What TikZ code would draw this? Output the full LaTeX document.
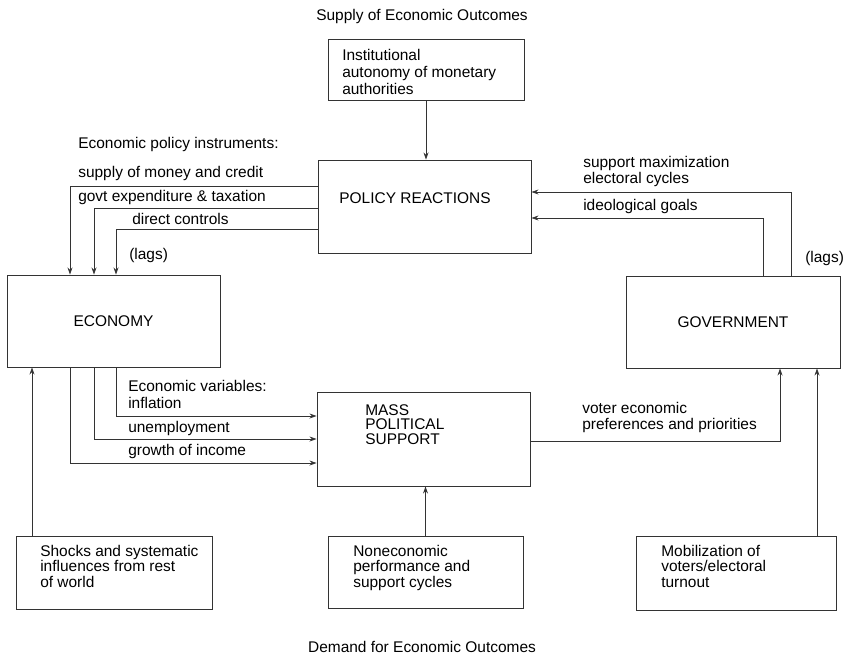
\documentclass[tikz,border=0pt]{standalone}
\usepackage{fontspec}
\setmainfont{Liberation Sans}
\usetikzlibrary{arrows.meta}

\newcommand{\pxs}[1]{#1*0.025cm}
\newcommand{\bx}{\node[draw=black!80, line width=0.6pt, inner sep=0pt]}
\newcommand{\tn}{\node[inner sep=0pt, align=left, anchor=base west]}

\begin{document}
\begin{tikzpicture}[x=0.025cm, y=-0.025cm,
    >={Stealth[length=5pt, width=3.5pt]},
    every node/.style={font=\fontsize{11}{11}\selectfont},
    wire/.style={->, draw=black!80, line width=0.6pt}]
\useasboundingbox (0,0) rectangle (845,659);

% boxes
\bx[minimum width=\pxs{196}, minimum height=\pxs{61}] (autonomy) at (426,69.5) {};
\bx[minimum width=\pxs{213}, minimum height=\pxs{93}] (policy) at (424.5,206.5) {};
\bx[minimum width=\pxs{213}, minimum height=\pxs{92}] (economy) at (113.5,321) {ECONOMY};
\bx[minimum width=\pxs{214}, minimum height=\pxs{92}] (gov) at (733,322) {GOVERNMENT};
\bx[minimum width=\pxs{213}, minimum height=\pxs{94}] (mass) at (423.5,439) {};
\bx[minimum width=\pxs{196}, minimum height=\pxs{73}] (shocks) at (114,572.5) {};
\bx[minimum width=\pxs{195}, minimum height=\pxs{72}] (noneco) at (425.5,572) {};
\bx[minimum width=\pxs{200}, minimum height=\pxs{74}] (mobil) at (736,573) {};

% box texts (base is the last line)
\tn[font=\fontsize{11}{12}\selectfont] (autonomytxt) at (342,94) {Institutional\\autonomy of monetary\\authorities};
\tn[anchor=center] (policytxt) at (415,198) {POLICY REACTIONS};
\tn[font=\fontsize{11}{10}\selectfont] (masstxt) at (365,444) {MASS\\POLITICAL\\SUPPORT};
\tn (shockstxt) at (40,587) {Shocks and systematic\\influences from rest\\of world};
\tn (nonecotxt) at (353,587) {Noneconomic\\performance and\\support cycles};
\tn (mobiltxt) at (661,587) {Mobilization of\\voters/electoral\\turnout};

% titles
\tn[anchor=base] (supply) at (422,20) {Supply of Economic Outcomes};
\tn[anchor=base] (demand) at (422,652) {Demand for Economic Outcomes};

% labels
\tn (instr) at (78,148) {Economic policy instruments:};
\tn (money) at (78,177) {supply of money and credit};
\tn (taxes) at (78,201) {govt expenditure \& taxation};
\tn (controls) at (132,224) {direct controls};
\tn (lagsl) at (129,259) {(lags)};
\tn (maxim) at (583,183) {support maximization\\electoral cycles};
\tn (ideol) at (583,210) {ideological goals};
\tn (lagsr) at (805,262) {(lags)};
\tn (econvar) at (128,391) {Economic variables:};
\tn (infl) at (128,408) {inflation};
\tn (unempl) at (128,432) {unemployment};
\tn (growth) at (128,455) {growth of income};
\tn (voter) at (582,429) {voter economic\\preferences and priorities};

% corners of the connectors
\coordinate (pa) at (70,186);
\coordinate (pb) at (94,208);
\coordinate (pc) at (116,229);
\coordinate (ea) at (116,416);
\coordinate (eb) at (94,439);
\coordinate (ec) at (70,463);
\coordinate (ga) at (791,192);
\coordinate (gb) at (763,218);
\coordinate (va) at (780,441);
\coordinate (sa) at (32,536);
\coordinate (mb) at (817,536);

\draw[wire] (autonomy.south) -- (autonomy.south |- policy.north);
\draw[wire] (policy.west |- pa) -- (pa) -- (pa |- economy.north);
\draw[wire] (policy.west |- pb) -- (pb) -- (pb |- economy.north);
\draw[wire] (policy.west |- pc) -- (pc) -- (pc |- economy.north);
\draw[wire] (economy.south -| ea) -- (ea) -- (ea -| mass.west);
\draw[wire] (economy.south -| eb) -- (eb) -- (eb -| mass.west);
\draw[wire] (economy.south -| ec) -- (ec) -- (ec -| mass.west);
\draw[wire] (gov.north -| ga) -- (ga) -- (ga -| policy.east);
\draw[wire] (gov.north -| gb) -- (gb) -- (gb -| policy.east);
\draw[wire] (mass.east |- va) -- (va) -- (va |- gov.south);
\draw[wire] (shocks.north -| sa) -- (sa |- economy.south);
\draw[wire] (noneco.north) -- (noneco.north |- mass.south);
\draw[wire] (mobil.north -| mb) -- (mb |- gov.south);
\end{tikzpicture}
\end{document}
